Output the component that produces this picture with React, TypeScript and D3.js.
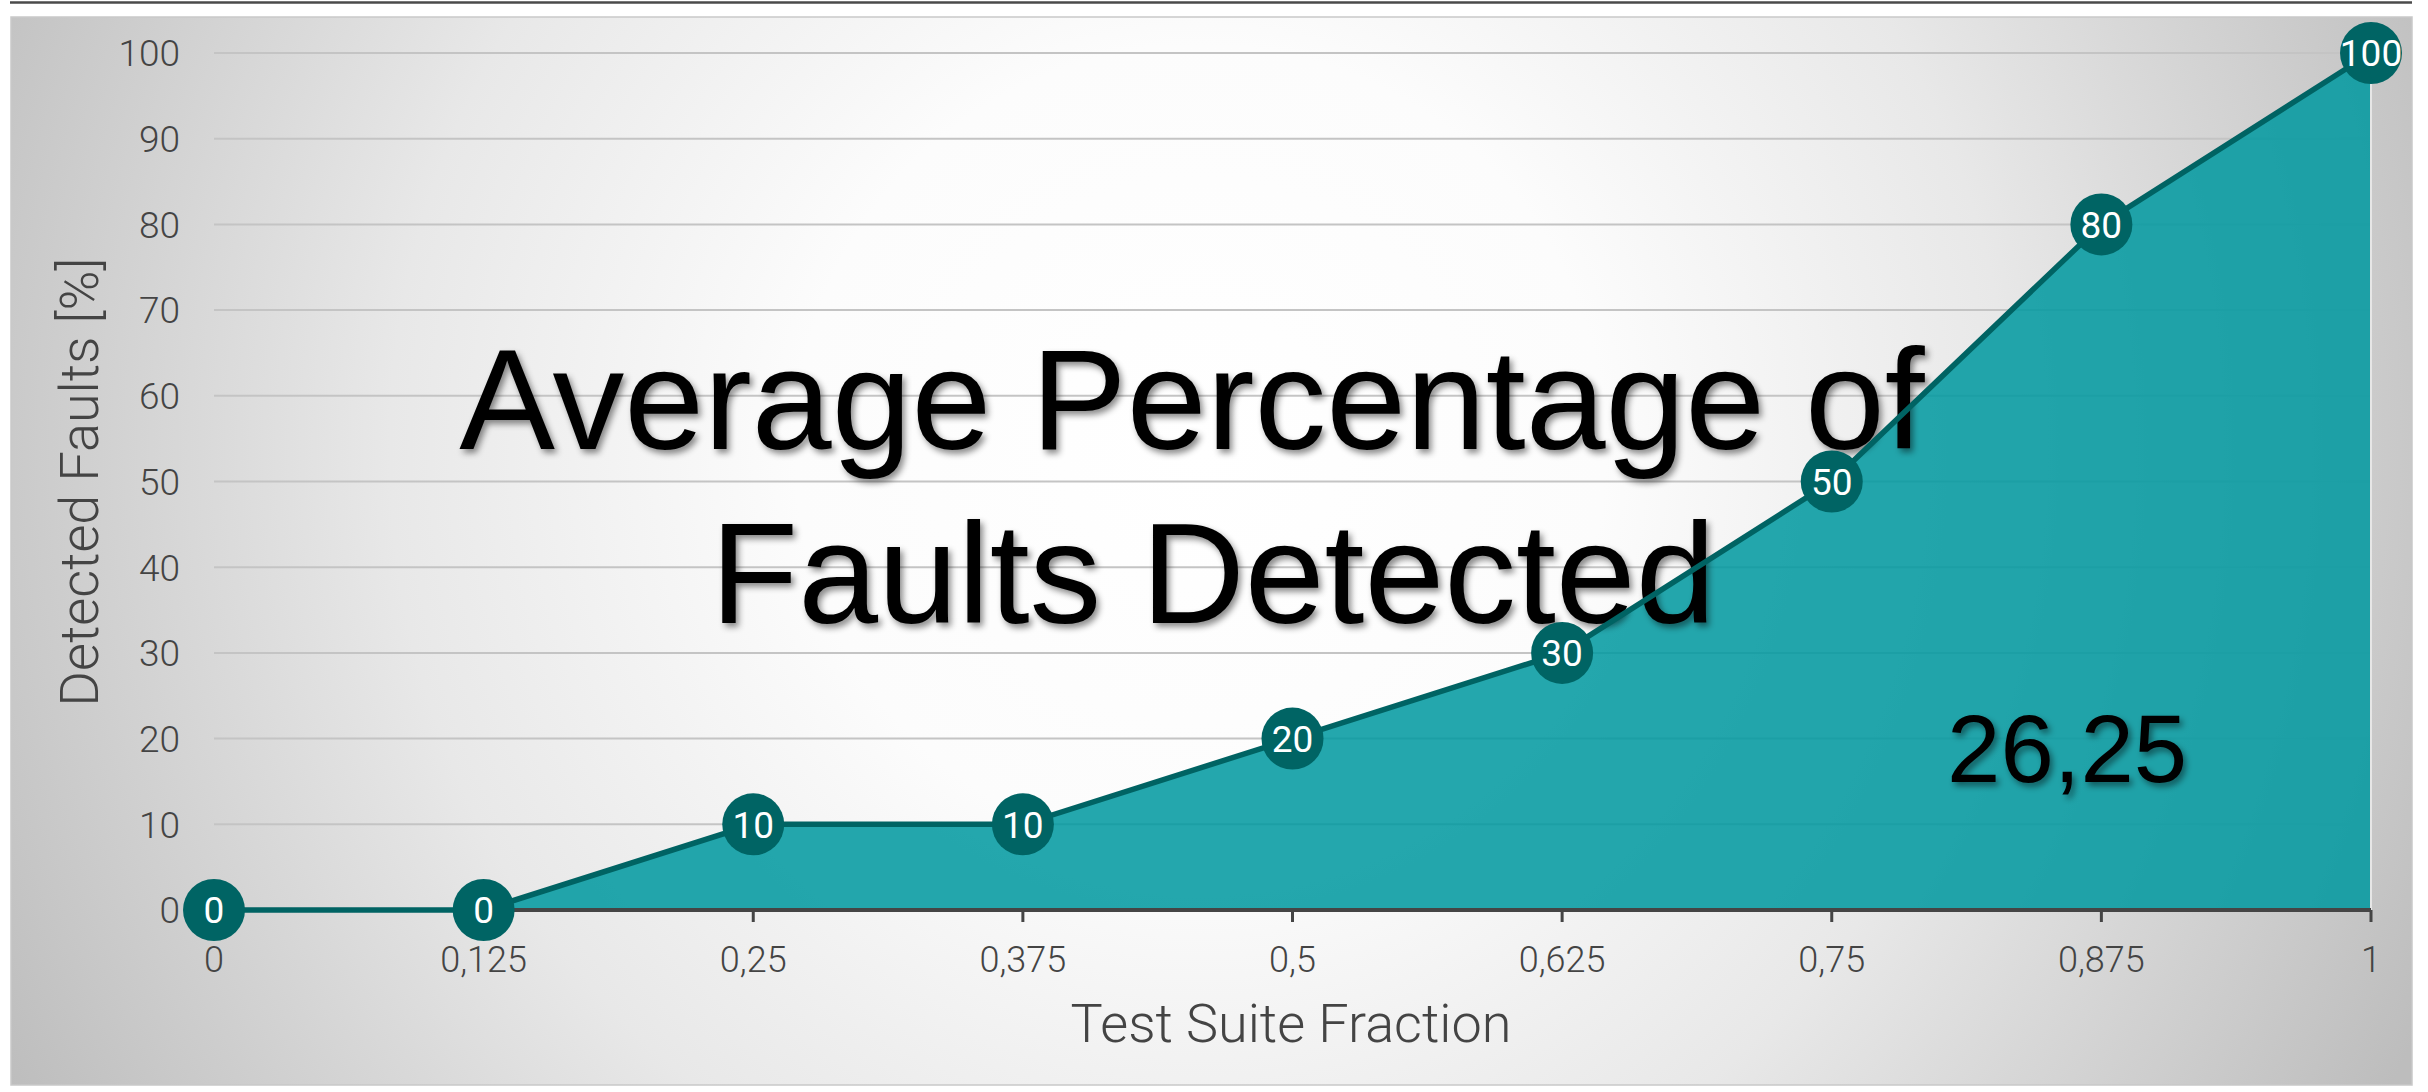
import React from "react";
import * as d3 from "d3";

const fractions = [0, 0.125, 0.25, 0.375, 0.5, 0.625, 0.75, 0.875, 1];
const fractionLabels = ["0", "0,125", "0,25", "0,375", "0,5", "0,625", "0,75", "0,875", "1"];
const detected = [0, 0, 10, 10, 20, 30, 50, 80, 100];
const yTicks = [0, 10, 20, 30, 40, 50, 60, 70, 80, 90, 100];
const titleLines = ["Average Percentage of", "Faults Detected"];
const apfdValue = "26,25";
const xTitle = "Test Suite Fraction";
const yTitle = "Detected Faults [%]";

const W = 2428;
const H = 1092;
const LIGHT = "Roboto, 'Noto Sans', sans-serif";
const SANS = "'Liberation Sans', Arial, sans-serif";

export default function App() {
  const x = d3.scaleLinear().domain([0, 1]).range([214, 2371]);
  const y = d3.scaleLinear().domain([0, 100]).range([910, 53]);
  const pts: [number, number][] = fractions.map((f, i) => [f, detected[i]]);
  const area = d3
    .area<[number, number]>()
    .x((d) => x(d[0]))
    .y0(y(0))
    .y1((d) => y(d[1]));
  const line = d3
    .line<[number, number]>()
    .x((d) => x(d[0]))
    .y((d) => y(d[1]));

  return (
    <svg
      width={W}
      height={H}
      viewBox={`0 0 ${W} ${H}`}
      style={{ position: "absolute", left: 0, top: 0, background: "#fff" }}
    >
      <defs>
        <radialGradient id="bg" gradientUnits="userSpaceOnUse" cx={1200} cy={450} r={1350}>
          <stop offset="0" stopColor="#ffffff" />
          <stop offset="0.3" stopColor="#fcfcfc" />
          <stop offset="0.6" stopColor="#e8e8e8" />
          <stop offset="1" stopColor="#bdbdbd" />
        </radialGradient>
        <filter id="shadow" x="-10%" y="-20%" width="120%" height="150%">
          <feDropShadow dx="3" dy="4" stdDeviation="3" floodColor="#000" floodOpacity="0.45" />
        </filter>
      </defs>

      <line x1={10} x2={2412} y1={2.5} y2={2.5} stroke="#4a4a4a" strokeWidth={2.5} />
      <rect x={11} y={17} width={2401} height={1068} fill="url(#bg)" stroke="#c9c9c9" strokeWidth={1.5} />

      {/* gridlines */}
      {yTicks
        .filter((t) => t > 0)
        .map((t) => (
          <line key={t} x1={x(0)} x2={x(1)} y1={y(t)} y2={y(t)} stroke="#c4c4c4" strokeWidth={2} />
        ))}

      {/* area */}
      <path d={area(pts) || ""} fill="rgb(0,153,160)" fillOpacity={0.86} />
      <line x1={x(1)} x2={x(1)} y1={y(100)} y2={y(0)} stroke="#e6e6e6" strokeWidth={2} />

      {/* x axis */}
      <line x1={x(0)} x2={x(1)} y1={y(0)} y2={y(0)} stroke="#454545" strokeWidth={4} />
      {fractions.map((f) => (
        <line key={f} x1={x(f)} x2={x(f)} y1={y(0)} y2={y(0) + 12} stroke="#454545" strokeWidth={3} />
      ))}
      {fractions.map((f, i) => (
        <text
          key={f}
          x={x(f)}
          y={972}
          textAnchor="middle"
          fontFamily={LIGHT}
          fontWeight={300}
          fontSize={36}
          fill="#444"
        >
          {fractionLabels[i]}
        </text>
      ))}

      {/* y tick labels */}
      {yTicks.map((t) => (
        <text
          key={t}
          x={180}
          y={y(t)}
          dy="0.36em"
          textAnchor="end"
          fontFamily={LIGHT}
          fontWeight={300}
          fontSize={37}
          fill="#444"
        >
          {t}
        </text>
      ))}

      {/* axis titles */}
      <text
        x={1291}
        y={1042}
        textAnchor="middle"
        fontFamily={LIGHT}
        fontWeight={300}
        fontSize={54}
        fill="#444"
      >
        {xTitle}
      </text>
      <text
        transform={`translate(98, 482) rotate(-90)`}
        textAnchor="middle"
        fontFamily={LIGHT}
        fontWeight={300}
        fontSize={54}
        fill="#444"
      >
        {yTitle}
      </text>

      {/* big title */}
      <g filter="url(#shadow)">
        <text x={1192} y={449} textAnchor="middle" fontFamily={SANS} fontSize={143.5} fill="#000">
          {titleLines[0]}
        </text>
        <text x={1213} y={623} textAnchor="middle" fontFamily={SANS} fontSize={143.5} fill="#000">
          {titleLines[1]}
        </text>
        <text x={1947} y={782} fontFamily={SANS} fontSize={96} fill="#000">
          {apfdValue}
        </text>
      </g>

      {/* line and markers */}
      <path d={line(pts) || ""} fill="none" stroke="#006363" strokeWidth={5.5} />
      {pts.map((d, i) => (
        <g key={i}>
          <circle cx={x(d[0])} cy={y(d[1])} r={31} fill="#006464" />
          <text
            x={x(d[0])}
            y={y(d[1])}
            dy="0.36em"
            textAnchor="middle"
            fontFamily={LIGHT}
            fontWeight={400}
            fontSize={37}
            fill="#fff"
          >
            {d[1]}
          </text>
        </g>
      ))}
    </svg>
  );
}
